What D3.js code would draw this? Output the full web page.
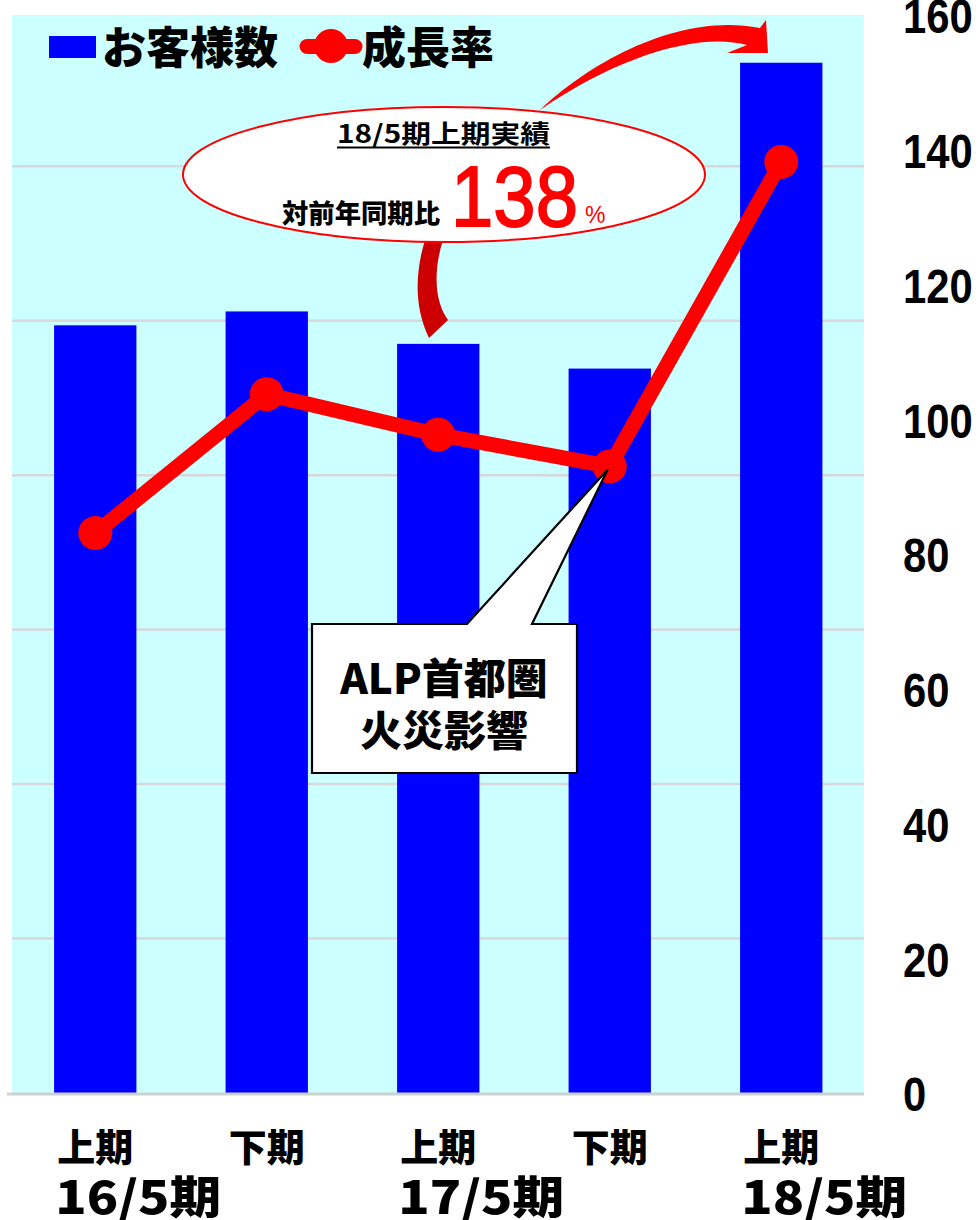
<!DOCTYPE html>
<html>
<head>
<meta charset="utf-8">
<script src="https://cdn.jsdelivr.net/npm/d3@7"></script>
<style>
  html, body { margin: 0; padding: 0; background: #ffffff; }
  svg { display: block; }
  .jp { font-family: "Noto Sans CJK JP", "Noto Sans", sans-serif; }
  .num { font-family: "Liberation Sans", Arial, sans-serif; }
</style>
</head>
<body>
<svg id="chart" width="980" height="1220"></svg>
<script>
// ---- data ----
const periods = ["16/5上期", "16/5下期", "17/5上期", "17/5下期", "18/5上期"];
const halfLabels = ["上期", "下期", "上期", "下期", "上期"];
const yearLabels = ["16/5期", "17/5期", "18/5期"];
const yearStartIndex = [0, 2, 4];
const customerIndex = [49.7, 50.6, 48.5, 46.9, 66.7];   // bars (hidden left axis, 0-70)
const growthRate = [83.1, 103.7, 97.7, 93.0, 138.2];     // line (right axis, %)
const rightTicks = [0, 20, 40, 60, 80, 100, 120, 140, 160];
const leftGridTicks = [10, 20, 30, 40, 50, 60];
const legendLabels = ["お客様数", "成長率"];
const balloonTitle = "18/5期上期実績";
const balloonLabel = "対前年同期比";
const balloonValue = "138";
const noteLines = ["ALP首都圏", "火災影響"];

// ---- layout ----
const svg = d3.select("#chart");
const plot = { left: 12, right: 864, top: 15, bottom: 1093 };

const x = d3.scaleBand().domain(periods).range([9.5, 867]).paddingInner(0.52).paddingOuter(0.26);
const yL = d3.scaleLinear().domain([0, 70]).range([plot.bottom, plot.bottom - 7 * 154.46]);
const yR = d3.scaleLinear().domain([0, 160]).range([plot.bottom, plot.top]);

// background
svg.append("rect")
  .attr("x", plot.left).attr("y", plot.top)
  .attr("width", plot.right - plot.left).attr("height", plot.bottom - plot.top)
  .attr("fill", "#CCFFFF");

// gridlines
svg.append("g").selectAll("line").data(leftGridTicks).join("line")
  .attr("x1", plot.left).attr("x2", plot.right)
  .attr("y1", d => yL(d)).attr("y2", d => yL(d))
  .attr("stroke", "#D8D8D8").attr("stroke-width", 2.5);

// bars
svg.append("g").selectAll("rect").data(customerIndex).join("rect")
  .attr("x", (d, i) => x(periods[i]))
  .attr("width", x.bandwidth())
  .attr("y", d => yL(d))
  .attr("height", d => yL(0) - yL(d))
  .attr("fill", "#0000FF");

// baseline
svg.append("line")
  .attr("x1", 7).attr("x2", 864)
  .attr("y1", plot.bottom + 1).attr("y2", plot.bottom + 1)
  .attr("stroke", "#D0D0D0").attr("stroke-width", 3);

// line series
const cx = i => x(periods[i]) + x.bandwidth() / 2;
const line = d3.line().x((d, i) => cx(i)).y(d => yR(d));
svg.append("path").datum(growthRate)
  .attr("d", line).attr("fill", "none")
  .attr("stroke", "#FF0000").attr("stroke-width", 15).attr("stroke-linejoin", "round");
svg.append("g").selectAll("circle").data(growthRate).join("circle")
  .attr("cx", (d, i) => cx(i)).attr("cy", d => yR(d)).attr("r", 17)
  .attr("fill", "#FF0000");

// right axis
const axR = svg.append("g").attr("transform", "translate(903,0)")
  .call(d3.axisRight(yR).tickValues(rightTicks).tickSize(0).tickPadding(0));
axR.select(".domain").remove();
axR.selectAll("text")
  .attr("class", "num")
  .attr("x", 0).attr("dy", "0.37em")
  .attr("text-anchor", "start")
  .attr("transform", "scale(0.87,1)")
  .attr("font-size", 48).attr("font-weight", "bold").attr("fill", "#000");

// bottom axis: half labels
const axB = svg.append("g").attr("transform", `translate(0,${plot.bottom})`)
  .call(d3.axisBottom(x).tickSize(0).tickPadding(0).tickFormat((d, i) => halfLabels[i]));
axB.select(".domain").remove();
axB.selectAll("text")
  .attr("class", "jp").attr("y", 0).attr("dy", 0)
  .attr("transform", "translate(0,68)")
  .attr("font-size", 38).attr("font-weight", 900).attr("fill", "#000");

// year labels
svg.append("g").selectAll("text").data(yearLabels).join("text")
  .attr("class", "jp")
  .attr("x", (d, i) => cx(yearStartIndex[i]) - 40)
  .attr("y", 1214)
  .attr("font-size", 45).attr("font-weight", 900)
  .attr("textLength", 166).attr("lengthAdjust", "spacingAndGlyphs")
  .attr("fill", "#000").text(d => d);

// legend
svg.append("rect").attr("x", 49).attr("y", 36).attr("width", 47).attr("height", 22).attr("fill", "#0000FF");
svg.append("text").attr("class", "jp").attr("x", 102).attr("y", 64)
  .attr("font-size", 44).attr("font-weight", 900).attr("fill", "#000").text(legendLabels[0]);
svg.append("line").attr("x1", 307).attr("x2", 355).attr("y1", 46.5).attr("y2", 46.5)
  .attr("stroke", "#FF0000").attr("stroke-width", 15).attr("stroke-linecap", "round");
svg.append("circle").attr("cx", 331).attr("cy", 46).attr("r", 17).attr("fill", "#FF0000");
svg.append("text").attr("class", "jp").attr("x", 362).attr("y", 64)
  .attr("font-size", 44).attr("font-weight", 900).attr("fill", "#000").text(legendLabels[1]);

// big curved arrow
svg.append("path")
  .attr("d", "M540,110 C590,62 680,12 760,28 L766,20 L768,53 L727,53 L747,45 C700,32 620,55 540,110 Z")
  .attr("fill", "#FF0000");

// balloon tail
svg.append("path")
  .attr("d", "M425,240 C416,270 413,305 429,338 L448,320 C436,304 432,275 443,240 Z")
  .attr("fill", "#CC0000");

// balloon ellipse
svg.append("ellipse").attr("cx", 444).attr("cy", 174.5).attr("rx", 261).attr("ry", 67.5)
  .attr("fill", "#FFFFFF").attr("stroke", "#FF0000").attr("stroke-width", 2);

svg.append("text").attr("class", "jp").attr("x", 337).attr("y", 143)
  .attr("font-size", 25).attr("font-weight", 700)
  .attr("textLength", 213).attr("lengthAdjust", "spacingAndGlyphs")
  .attr("fill", "#000").text(balloonTitle);
svg.append("line").attr("x1", 337).attr("x2", 550).attr("y1", 147.5).attr("y2", 147.5)
  .attr("stroke", "#000").attr("stroke-width", 2);
svg.append("text").attr("class", "jp").attr("x", 282).attr("y", 223)
  .attr("font-size", 26).attr("font-weight", 900)
  .attr("textLength", 158).attr("lengthAdjust", "spacingAndGlyphs")
  .attr("fill", "#000").text(balloonLabel);
svg.append("text").attr("class", "num").attr("x", 451).attr("y", 226)
  .attr("font-size", 86).attr("textLength", 127).attr("lengthAdjust", "spacingAndGlyphs")
  .attr("fill", "#FF0000").attr("stroke", "#FF0000").attr("stroke-width", 1.8)
  .text(balloonValue);
svg.append("text").attr("class", "num").attr("x", 585).attr("y", 223)
  .attr("font-size", 23).attr("fill", "#FF0000").text("%");

// note callout
svg.append("path")
  .attr("d", `M312,624 L467,624 L${cx(3) - 2},${yR(growthRate[3]) + 3} L532,624 L577,624 L577,773 L312,773 Z`)
  .attr("fill", "#FFFFFF").attr("stroke", "#000").attr("stroke-width", 2.2)
  .attr("stroke-linejoin", "miter");
svg.append("g").selectAll("text").data(noteLines).join("text")
  .attr("class", "jp")
  .attr("x", 444).attr("y", (d, i) => 694 + i * 52)
  .attr("text-anchor", "middle").attr("font-size", 42).attr("font-weight", 900)
  .attr("fill", "#000").text(d => d);
</script>
</body>
</html>
